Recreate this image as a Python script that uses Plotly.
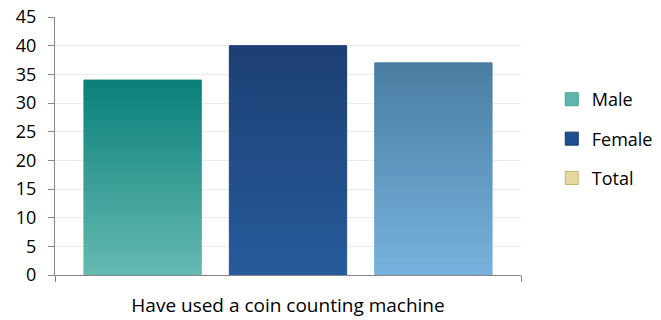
import plotly.graph_objects as go

# ---- data ----
categories = ["Have used a coin counting machine"]
series_names = ["Male", "Female", "Total"]
male_values = [34]
female_values = [40]
total_values = [37]

y_ticks = [0, 5, 10, 15, 20, 25, 30, 35, 40, 45]

# ---- style ----
FONT = "Open Sans"
# gradient colours (bottom -> top)
grad = {
    "Male": ((102, 186, 178), (10, 128, 122)),
    "Female": ((38, 91, 156), (28, 63, 115)),
    "Total": ((119, 178, 222), (74, 126, 162)),
}
legend_colors = {
    "Male": ("#5fb4ac", "#4aa39b"),
    "Female": ("#1f4f8f", "#15386a"),
    "Total": ("#e4d7a0", "#c8b56c"),
}
N_SLICES = 60


def ramp(c0, c1, n):
    out = []
    for k in range(n):
        t = (k + 0.5) / n
        r, g, b = (round(c0[i] + (c1[i] - c0[i]) * t) for i in range(3))
        out.append(f"rgb({r},{g},{b})")
    return out


fig = go.Figure()
values_by_series = {"Male": male_values, "Female": female_values, "Total": total_values}

for name in series_names:
    vals = values_by_series[name]
    xs, ys, bases, cols = [], [], [], []
    colors = ramp(grad[name][0], grad[name][1], N_SLICES)
    for cat, v in zip(categories, vals):
        for k in range(N_SLICES):
            xs.append(cat)
            ys.append(v / N_SLICES)
            bases.append(v * k / N_SLICES)
            cols.append(colors[k])
    fig.add_trace(go.Bar(
        x=xs, y=ys, base=bases, name=name, showlegend=False,
        marker=dict(color=cols, line=dict(width=1, color=cols)),
        hoverinfo="skip",
    ))

# legend entries
for name in series_names:
    fc, lc = legend_colors[name]
    fig.add_trace(go.Scatter(
        x=[None], y=[None], mode="markers", name=name, legendgroup=name,
        marker=dict(symbol="square", size=13, color=fc, line=dict(color=lc, width=1)),
    ))

fig.update_layout(
    width=661, height=320,
    margin=dict(l=55, r=140, t=17, b=45, autoexpand=False),
    paper_bgcolor="white", plot_bgcolor="white",
    barmode="group", bargap=0.064, bargroupgap=0.193,
    font=dict(family=FONT, size=18, color="#000000"),
    legend=dict(
        x=1.066, xanchor="left", y=0.527, yanchor="middle",
        traceorder="grouped", tracegroupgap=13,
        font=dict(family=FONT, size=18, color="#000000"),
        bgcolor="rgba(0,0,0,0)",
    ),
    showlegend=True,
)

fig.update_xaxes(
    type="category", showline=True, linecolor="#868686", linewidth=1,
    ticks="outside", tickson="boundaries", ticklen=6, tickcolor="#868686",
    showgrid=False, tickfont=dict(family=FONT, size=19, color="#000000"),
    ticklabelstandoff=13, automargin=False,
)
fig.update_yaxes(
    range=[0, 45], tickvals=y_ticks, showline=True, linecolor="#868686", linewidth=1,
    ticks="outside", ticklen=6, tickcolor="#868686",
    showgrid=True, gridcolor="#ececec", gridwidth=1, zeroline=False,
    tickfont=dict(family=FONT, size=18, color="#000000"),
    ticklabelstandoff=8, automargin=False,
)

fig.write_html("out.html")
